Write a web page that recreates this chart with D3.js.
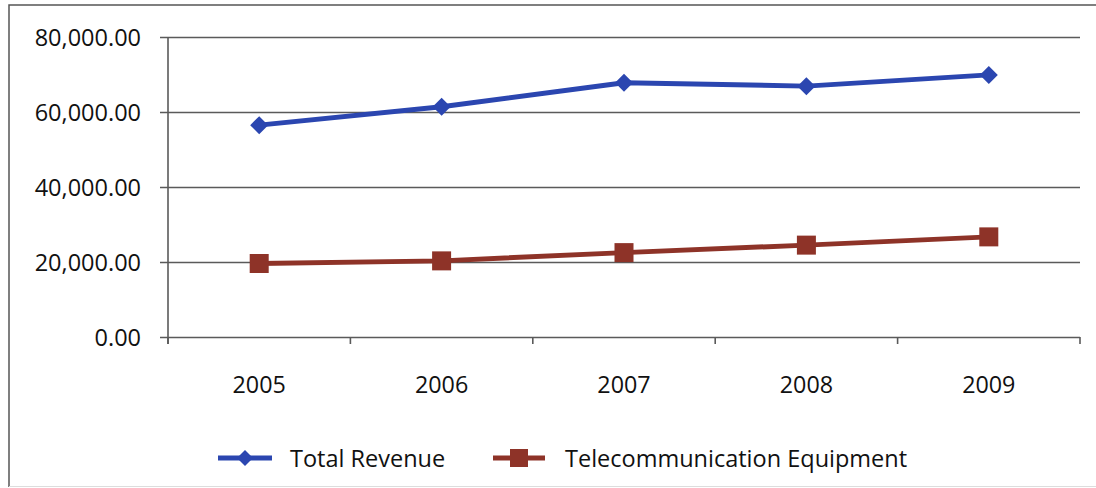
<!DOCTYPE html>
<html><head><meta charset="utf-8">
<script src="https://cdn.jsdelivr.net/npm/d3@7"></script>
<style>body{margin:0;background:#fff}svg{display:block}</style>
</head><body>
<svg id="c" width="1096" height="488"></svg>
<script>
const years = ["2005","2006","2007","2008","2009"];
const totalRevenue = [56500, 61400, 67800, 66900, 69900];
const telecomEquipment = [19600, 20300, 22500, 24500, 26700];
const yTicks = [0, 20000, 40000, 60000, 80000];
const seriesNames = ["Total Revenue", "Telecommunication Equipment"];

const svg = d3.select("#c");
const font = "'Open Sans', 'Noto Sans', sans-serif";
const gridColor = "#5a5a5a";
const colors = ["#2b46b0", "#8e3328"];
const textColor = "#111";

// outer frame
svg.append("path").attr("d","M9,487 L9,5 L1096,5").attr("fill","none").attr("stroke","#555").attr("stroke-width",1.5);
svg.append("line").attr("x1",9).attr("x2",1096).attr("y1",486.5).attr("y2",486.5).attr("stroke","#ddd").attr("stroke-width",1);

const x = d3.scaleBand().domain(years).range([168, 1080]).padding(0);
const y = d3.scaleLinear().domain([0, 80000]).range([337, 37]);
const cx = d => x(d) + x.bandwidth()/2;

// gridlines and y ticks
const yAxis = d3.axisLeft(y).tickValues(yTicks).tickSize(-(1080-160)).tickPadding(20)
  .tickFormat(d3.format(",.2f"));
const gy = svg.append("g").attr("transform","translate(160,0)").call(yAxis);
gy.select(".domain").remove();
gy.selectAll(".tick line").attr("stroke", gridColor).attr("stroke-width",1.6);
gy.selectAll(".tick text").attr("font-family",font).attr("font-size",23.5).attr("fill",textColor).attr("x",-19).attr("dy","0.34em");

// y axis line
svg.append("line").attr("x1",168).attr("x2",168).attr("y1",37).attr("y2",344).attr("stroke",gridColor).attr("stroke-width",1.6);

// x axis ticks at band boundaries
const bounds = years.map(d => x(d)).concat([x(years[years.length-1]) + x.bandwidth()]);
svg.selectAll(".xt").data(bounds).enter().append("line")
  .attr("x1",d=>d).attr("x2",d=>d).attr("y1",337).attr("y2",344)
  .attr("stroke",gridColor).attr("stroke-width",1.6);
svg.selectAll(".xl").data(years).enter().append("text")
  .attr("x",d=>cx(d)).attr("y",393).attr("text-anchor","middle")
  .attr("font-family",font).attr("font-size",23.3).attr("fill",textColor).text(d=>d);

// lines
const line = d3.line().x((d,i)=>cx(years[i])).y(d=>y(d));
const data = [totalRevenue, telecomEquipment];
data.forEach((vals, si) => {
  svg.append("path").datum(vals).attr("d", line).attr("fill","none")
    .attr("stroke", colors[si]).attr("stroke-width",5).attr("stroke-linejoin","round");
});
// markers
const diamond = (px,py,r) => `M${px},${py-r} L${px+r},${py} L${px},${py+r} L${px-r},${py} Z`;
svg.selectAll(".m1").data(totalRevenue).enter().append("path")
  .attr("d",(d,i)=>diamond(cx(years[i]), y(d), 9)).attr("fill",colors[0]);
svg.selectAll(".m2").data(telecomEquipment).enter().append("rect")
  .attr("x",(d,i)=>cx(years[i])-9.5).attr("y",d=>y(d)-9.5).attr("width",19).attr("height",19)
  .attr("fill",colors[1]);

// legend
const lg = [{x1:218,x2:272,tx:290},{x1:493,x2:545,tx:565}];
lg.forEach((l, i) => {
  const ly = 458;
  svg.append("line").attr("x1",l.x1).attr("x2",l.x2).attr("y1",ly).attr("y2",ly).attr("stroke",colors[i]).attr("stroke-width",5);
  const mx = (l.x1+l.x2)/2;
  if (i===0) svg.append("path").attr("d",diamond(mx,ly,8)).attr("fill",colors[0]);
  else svg.append("rect").attr("x",mx-9).attr("y",ly-9).attr("width",18).attr("height",18).attr("fill",colors[1]);
  svg.append("text").attr("x",l.tx).attr("y",ly+9).attr("font-family",font).attr("font-size",23.5).attr("fill",textColor).text(seriesNames[i]);
});
</script>
</body></html>
